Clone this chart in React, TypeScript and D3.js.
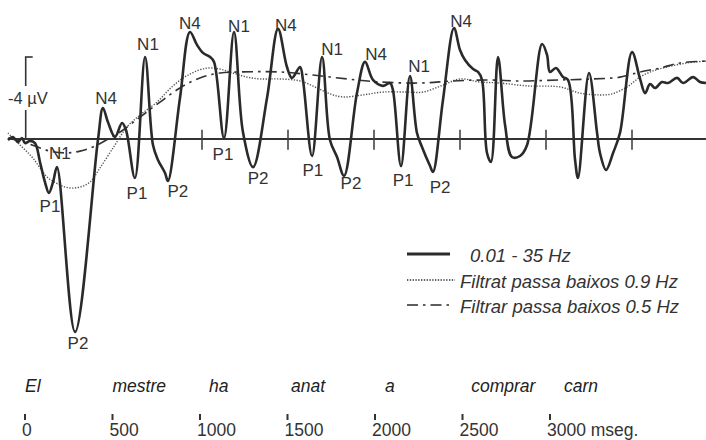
import React from 'react';
import * as d3 from 'd3';

const W = 706;
const H = 440;

// solid line 0.01 - 35 Hz : time (ms) and amplitude (µV, negative up)
const solidT = [-128,-99,-70,-47,-29,0,29,58,87,110,134,157,262,395,424,453,494,535,558,610,669,715,744,785,802,872,930,971,1006,1047,1070,1128,1186,1238,1297,1378,1442,1494,1523,1570,1587,1640,1698,1744,1785,1826,1901,1948,1994,2052,2093,2110,2157,2209,2250,2279,2326,2343,2401,2465,2500,2529,2576,2605,2628,2657,2680,2721,2762,2802,2849,2890,2977,3006,3023,3058,3099,3128,3169,3186,3250,3297,3314,3349,3390,3430,3500,3547,3576,3605,3634,3674,3709,3762,3797,3855,3895,3930];
const solidV = [0.05,-0.1,0.15,-0.05,0.2,0.1,0.2,1.12,2.1,2.63,2.1,1.37,9.41,0.05,-1.51,-0.83,-0.1,-0.78,-0.44,1.9,-4.0,0.29,1.02,1.66,2.05,-2.0,-5.22,-4.59,-4.2,-4.0,-3.76,-0.05,-5.22,-0.34,1.37,-2.0,-5.37,-3.51,-2.98,-3.51,-2.88,0.83,-4.0,0.05,0.88,1.8,-2.24,-3.76,-2.88,-2.59,-2.73,-2.39,1.32,-3.07,-0.29,0.39,1.32,1.61,-1.9,-5.41,-4.34,-3.85,-3.41,-3.27,-2.88,0.68,1.12,-4.0,-0.68,0.88,0.83,0.29,-4.63,-4.1,-3.27,-3.46,-3.02,-2.88,1.02,1.9,-3.22,-0.29,0.68,1.51,0.68,-0.29,-4.24,-2.93,-2.24,-2.68,-2.49,-2.78,-2.73,-2.98,-2.73,-3.02,-2.78,-2.73];

// dotted line: low-pass 0.9 Hz
const dottedT = [-128,-58,17,99,174,233,291,349,407,494,564,640,738,831,930,1029,1105,1180,1262,1337,1453,1570,1669,1744,1820,1936,2052,2192,2285,2401,2500,2616,2733,2890,3081,3197,3314,3384,3471,3547,3622,3703,3820,3930];
const dottedV = [-0.29,0.29,0.93,1.85,2.24,2.39,2.34,2.1,1.41,0.29,-0.59,-1.17,-1.8,-2.59,-3.17,-3.46,-3.41,-3.22,-3.02,-2.93,-2.93,-2.83,-2.49,-2.2,-2.05,-2.15,-2.29,-2.29,-2.29,-2.63,-2.93,-2.78,-2.73,-2.59,-2.54,-2.24,-2.15,-2.2,-2.54,-3.02,-3.32,-3.51,-3.71,-3.8];

// dash-dot line: low-pass 0.5 Hz
const dashT = [-128,-58,29,116,215,291,366,465,541,640,756,872,988,1105,1221,1453,1645,1843,2035,2267,2459,2657,2849,3081,3273,3430,3547,3663,3779,3930];
const dashV = [-0.05,0.1,0.34,0.59,0.68,0.59,0.39,-0.05,-0.44,-1.07,-1.8,-2.49,-2.98,-3.22,-3.27,-3.27,-3.12,-2.93,-2.78,-2.73,-2.83,-2.88,-2.83,-2.88,-2.93,-3.02,-3.27,-3.46,-3.71,-3.8];

// component labels
const compText = ['N1','P1','P2','N4','P1','N1','P2','N4','P1','N1','P2','N4','P1','N1','P2','N4','P1','N1','P2','N4'];
const compT = [174,116,279,442,622,686,860,930,1122,1215,1326,1488,1645,1756,1866,2012,2169,2262,2384,2506];
const compV = [0.98,3.56,10.24,-1.71,2.93,-4.34,2.83,-5.37,1.02,-5.22,2.2,-5.27,1.8,-4.1,2.44,-3.85,2.29,-3.27,2.63,-5.46];

// baseline ticks (ms)
const baseTicks = [1000,1500,2000,2500,3000,3500];

// sentence timeline
const words = ['El','mestre','ha','anat','a','comprar','carn'];
const wordOnsets = [0,500,1051,1520,2057,2550,3080];
const timeTicks = [0,500,1000,1500,2000,2500,3000];
const timeLabels = ['0','500','1000','1500','2000','2500','3000 mseg.'];

const legendLabels = ['0.01 - 35 Hz','Filtrat passa baixos 0.9 Hz','Filtrar passa baixos 0.5 Hz'];

const FONT = '"Liberation Sans", Arial, Helvetica, sans-serif';

export default function App() {
  const x = d3.scaleLinear().domain([0, 500]).range([30, 116]);
  const y = d3.scaleLinear().domain([0, -4]).range([139, 57]);
  const xt = d3.scaleLinear().domain([0, 3000]).range([25, 550]);

  const line = d3.line<[number, number]>()
    .x(d => x(d[0]))
    .y(d => y(d[1]))
    .curve(d3.curveCatmullRom.alpha(0.5));

  const solid = line(solidT.map((t, i) => [t, solidV[i]]));
  const dotted = line(dottedT.map((t, i) => [t, dottedV[i]]));
  const dashdot = line(dashT.map((t, i) => [t, dashV[i]]));

  const barX = x(-25);
  const legendY = [254, 280, 305];
  const legendStyles = [
    { w: 3, dash: undefined as string | undefined, x2: 450 },
    { w: 1.3, dash: '1.3,1.5', x2: 455 },
    { w: 1.6, dash: '11,5,2.5,5', x2: 452 },
  ];
  const legendTextX = [470, 460, 460];

  return (
    <svg width={W} height={H} style={{ position: 'absolute', left: 0, top: 0, background: '#fff' }}
      fontFamily={FONT}>
      <rect x={0} y={0} width={W} height={H} fill="#fff" />
      {/* baseline */}
      <line x1={x(-128)} x2={x(3930)} y1={y(0)} y2={y(0)} stroke="#333" strokeWidth={2.2} />
      {baseTicks.map(t => (
        <line key={t} x1={x(t)} x2={x(t)} y1={y(-0.45)} y2={y(0.52)} stroke="#444" strokeWidth={1.6} />
      ))}
      {/* scale bar */}
      <line x1={barX} x2={barX} y1={y(-4)} y2={86} stroke="#333" strokeWidth={1.6} />
      <line x1={barX} x2={barX} y1={110} y2={y(0)} stroke="#333" strokeWidth={1.6} />
      <line x1={barX - 0.8} x2={barX + 7} y1={y(-4)} y2={y(-4)} stroke="#333" strokeWidth={1.6} />
      <text x={8} y={104} fontSize={16.5} fill="#333">-4 µV</text>

      <path d={dotted || ''} fill="none" stroke="#555" strokeWidth={1.4} strokeDasharray="1.3,1.5" />
      <path d={dashdot || ''} fill="none" stroke="#333" strokeWidth={1.6} strokeDasharray="11,5,2.5,5" />
      <path d={solid || ''} fill="none" stroke="#2a2a2a" strokeWidth={2.6} strokeLinejoin="round" />

      {compText.map((s, i) => (
        <text key={i} x={x(compT[i])} y={y(compV[i])} textAnchor="middle" fontSize={17} fill="#333">{s}</text>
      ))}

      {/* legend */}
      {legendLabels.map((s, i) => (
        <g key={s}>
          <line x1={407} x2={legendStyles[i].x2} y1={legendY[i]} y2={legendY[i]} stroke="#2a2a2a"
            strokeWidth={legendStyles[i].w} strokeDasharray={legendStyles[i].dash} />
          <text x={legendTextX[i]} y={legendY[i] + 8} fontSize={18.5} fontStyle="italic" fill="#333">{s}</text>
        </g>
      ))}

      {/* sentence timeline */}
      {words.map((w, i) => (
        <text key={w} x={xt(wordOnsets[i])} y={392} fontSize={17.5} fontStyle="italic" fill="#222">{w}</text>
      ))}
      {timeTicks.map(t => (
        <rect key={t} x={xt(t) - 1} y={414} width={2} height={6} fill="#333" />
      ))}
      {timeLabels.map((s, i) => (
        <text key={s} x={xt(timeTicks[i]) - 3} y={436} fontSize={17.5} fill="#333">{s}</text>
      ))}
    </svg>
  );
}
